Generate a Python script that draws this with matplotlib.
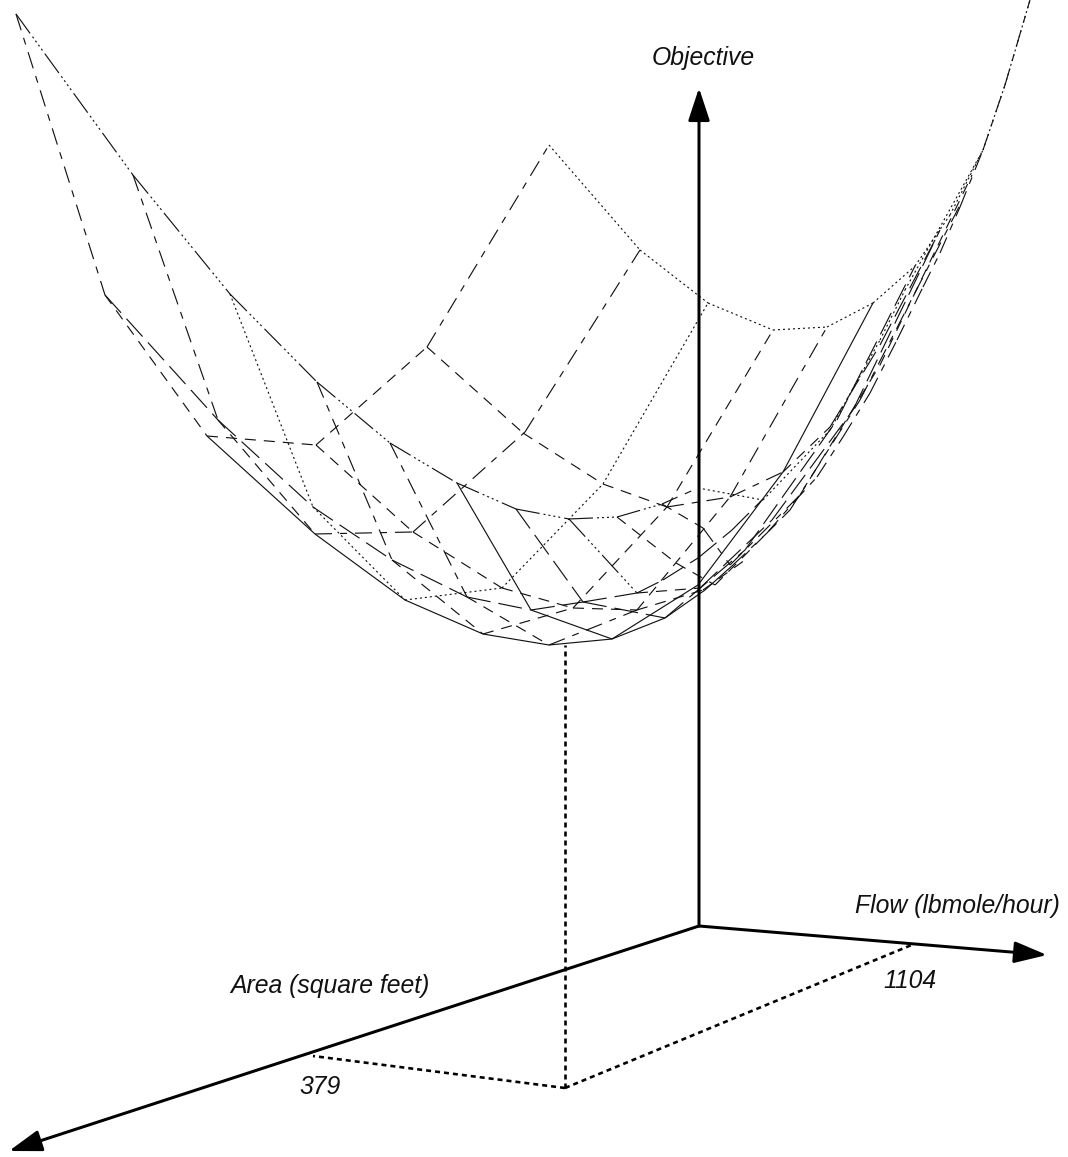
import matplotlib
matplotlib.use('Agg')
import matplotlib.pyplot as plt

plt.rcParams['font.family'] = ['Liberation Sans', 'DejaVu Sans']
plt.rcParams['lines.scale_dashes'] = False

# wire lines, pixel positions
# lines running from the left edge along the bowl
v0_x = [16, 133, 230, 317, 390, 457, 516, 569, 617, 662, 698]
v0_y = [14, 175, 294, 382, 443, 483, 509, 519, 517, 504, 488]
v0_s = ['ld', 'ld', 'ld', 'ld', 'ld', 'ld', 'ld', 'ld', 'ld', 'a']

v1_x = [105, 218, 313, 392, 467, 531, 583, 637, 663, 698, 732, 762]
v1_y = [295, 420, 507, 560, 597, 610, 602, 593, 580, 558, 530, 500]
v1_s = ['l', 'l', 'l', 'l', 'l', 'l', 'l', 'l', 'l', 'l', 'l']

v2_x = [207, 315, 405, 483, 549, 612, 665, 705, 733, 767, 793, 817, 843, 870, 897, 923, 940, 960, 983, 1005, 1030]
v2_y = [436, 534, 600, 634, 645, 639, 618, 590, 565, 533, 503, 477, 437, 393, 340, 287, 253, 207, 150, 85, 0]
v2_s = ['-'] * 8 + ['a'] * 12

v3_x = [316, 413, 502, 573, 637, 703, 745]
v3_y = [445, 532, 588, 608, 610, 590, 560]
v3_s = ['d', 'd', 'd', 'd', 'd', 'd']

v4_x = [427, 523, 603, 667, 730, 783, 830, 880, 935]
v4_y = [347, 433, 484, 507, 497, 472, 427, 345, 240]
v4_s = ['d', 'd', 'd', 'a', 'a', 'd', 'l', 'l']

v5_x = [549, 640, 708, 773, 827, 873, 915, 950, 983, 1005, 1030]
v5_y = [145, 250, 303, 330, 327, 303, 266, 215, 150, 85, 0]
v5_s = [':'] * 10

# lines running across, from the top edge towards the back edge
u0_x = [16, 105, 207, 316, 427, 549]
u0_y = [14, 295, 436, 445, 347, 145]
u0_s = ['a', 'd', 'd', 'd', 'a']

u1_x = [133, 218, 315, 413, 525, 640]
u1_y = [175, 420, 534, 532, 432, 250]
u1_s = ['a', 'd', 'a', 'a', 'a']

u2_x = [230, 313, 405, 502, 603, 708]
u2_y = [294, 507, 600, 588, 484, 303]
u2_s = [':', ':', ':', ':', ':']

u3_x = [317, 392, 483, 573, 667, 773]
u3_y = [382, 560, 634, 608, 507, 330]
u3_s = ['a', 'd', 'd', 'd', 'd']

u4_x = [390, 467, 549, 637, 730, 827]
u4_y = [443, 597, 645, 610, 497, 327]
u4_s = ['a', 'd', 'a', 'd', 'a']

u5_x = [457, 531, 612, 698, 783, 873]
u5_y = [483, 610, 639, 585, 472, 303]
u5_s = ['-', '-', '-', '-', '-']

u6_x = [516, 583, 665, 745, 837, 915]
u6_y = [509, 602, 618, 550, 420, 266]
u6_s = ['l', 'l', 'l', 'l', 'l']

u7_x = [569, 637, 700, 772, 853, 940]
u7_y = [519, 593, 588, 520, 410, 230]
u7_s = ['ld', 'd', 'l', 'l', 'l']

u8_x = [617, 676, 715, 790, 860, 960]
u8_y = [517, 563, 585, 510, 400, 205]
u8_s = ['d', 'd', 'd', 'a', 'a']

u9_x = [662, 703, 730, 800, 880, 972]
u9_y = [504, 528, 565, 495, 365, 175]
u9_s = ['d', 'a', 'a', 'd', 'd']

u10_x = [698, 763, 830, 880, 905, 983]
u10_y = [488, 500, 430, 340, 290, 150]
u10_s = [':', ':', ':', ':', ':']

wires = [(v0_x, v0_y, v0_s), (v1_x, v1_y, v1_s), (v2_x, v2_y, v2_s),
         (v3_x, v3_y, v3_s), (v4_x, v4_y, v4_s), (v5_x, v5_y, v5_s),
         (u0_x, u0_y, u0_s), (u1_x, u1_y, u1_s), (u2_x, u2_y, u2_s),
         (u3_x, u3_y, u3_s), (u4_x, u4_y, u4_s), (u5_x, u5_y, u5_s),
         (u6_x, u6_y, u6_s), (u7_x, u7_y, u7_s), (u8_x, u8_y, u8_s),
         (u9_x, u9_y, u9_s), (u10_x, u10_y, u10_s)]

# axes and the minimum point
origin = (699, 926)
obj_tip = (699, 88)
flow_tip = (1047, 955)
area_tip = (9, 1151)
minimum = (565, 1088)
surface_low = (565, 645)
flow_foot = (914, 944)
area_foot = (313, 1056)

labels = ['Objective', 'Flow (lbmole/hour)', 'Area (square feet)', '1104', '379']
label_x = [652, 855, 230, 883, 299]
label_y = [58, 906, 986, 981, 1087]

px = 72.0 / 100
dashes = {
    '-': (0, ()),
    'l': (0, (24 * px, 8 * px)),
    'd': (0, (11 * px, 8 * px)),
    'a': (0, (17 * px, 8 * px, 7 * px, 8 * px)),
    ':': (0, (2 * px, 3 * px)),
    'ld': (0, (24 * px, 4 * px, 2 * px, 3 * px, 2 * px, 3 * px, 2 * px, 3 * px, 2 * px, 4 * px)),
}

fig = plt.figure(figsize=(10.68, 11.57), dpi=100)
ax = fig.add_axes([0, 0, 1, 1])
ax.set_xlim(0, 1068)
ax.set_ylim(1157, 0)
ax.axis('off')

for xs, ys, st in wires:
    for i in range(len(st)):
        ax.plot(xs[i:i + 2], ys[i:i + 2], color='#111111', lw=1.15 * px,
                linestyle=dashes[st[i]], solid_capstyle='butt', dash_capstyle='butt')

for tip in (obj_tip, flow_tip, area_tip):
    ax.annotate('', xy=tip, xytext=origin,
                arrowprops=dict(arrowstyle='-|>,head_length=1.0,head_width=0.33', color='black',
                                lw=3 * px, shrinkA=0, shrinkB=0, mutation_scale=20))

for foot in (surface_low, flow_foot, area_foot):
    ax.plot([minimum[0], foot[0]], [minimum[1], foot[1]], color='black', lw=2.6 * px,
            linestyle=(0, (5 * px, 4 * px)), dash_capstyle='butt')

for t, x, y in zip(labels, label_x, label_y):
    ax.text(x, y, t, style='italic', fontsize=17.8, color='#111111', ha='left', va='center')

fig.savefig('out.png', dpi=100)
